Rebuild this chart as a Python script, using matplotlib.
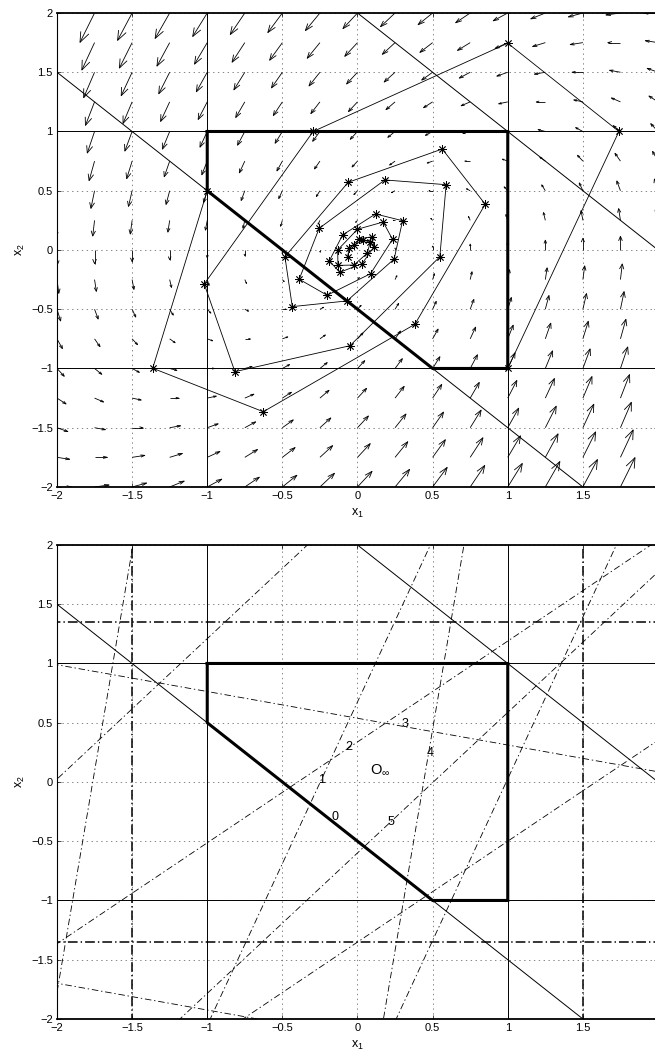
import numpy as np
import matplotlib
matplotlib.use('Agg')
import matplotlib.pyplot as plt
from matplotlib.collections import LineCollection

plt.rcParams['font.family'] = ['Liberation Sans', 'DejaVu Sans']
plt.rcParams['mathtext.fontset'] = 'custom'
plt.rcParams['mathtext.rm'] = 'Liberation Sans'
plt.rcParams['mathtext.it'] = 'Liberation Sans'
plt.rcParams['mathtext.default'] = 'regular'
plt.rcParams['lines.scale_dashes'] = False

A_sys = np.array([[1.0, -0.733], [1.0, 0.0]])
grid_vals = np.arange(-2, 2.001, 0.25)
arrow_scale = 0.066

ticks = [-2, -1.5, -1, -0.5, 0, 0.5, 1, 1.5, 2]
xtick_labels = ['\u22122', '\u22121.5', '\u22121', '\u22120.5', '0', '0.5', '1', '1.5', '']
ytick_labels = ['\u22122', '\u22121.5', '\u22121', '\u22120.5', '0', '0.5', '1', '1.5', '2']

# constraint set and O_inf
box_lim = [-1, 1]
sum_bounds = [-0.5, 2]
oinf_x = [-1, 1, 1, 0.5, -1, -1]
oinf_y = [1, 1, -1, -1, 0.5, 1]

# trajectories started from the vertices (1,-1) and (-1,0.5)
traj1_x = [1.0, 1.74, 1.0, -0.295, -1.02, -0.816, -0.05, 0.548, 0.59, 0.182, -0.255, -0.388,
           -0.202, 0.087, 0.233, 0.171, 0.0, -0.132, -0.13, -0.024, 0.064, 0.085, 0.038, -0.024]
traj1_y = [-1.0, 1.0, 1.745, 1.0, -0.287, -1.027, -0.808, -0.057, 0.551, 0.591, 0.183, -0.247,
           -0.382, -0.2, 0.09, 0.236, 0.175, 0.0, -0.13, -0.127, -0.028, 0.064, 0.085, 0.038]
traj2_x = [-1.0, -1.363, -0.627, 0.382, 0.85, 0.564, -0.062, -0.483, -0.434, -0.07, 0.244, 0.30,
           0.12, -0.099, -0.188, -0.117, 0.031, 0.111, 0.094, 0.013, -0.056, -0.066]
traj2_y = [0.5, -0.998, -1.365, -0.627, 0.386, 0.852, 0.571, -0.057, -0.478, -0.43, -0.076, 0.247,
           0.304, 0.127, -0.093, -0.188, -0.115, 0.028, 0.111, 0.094, 0.013, -0.056]

# rows [1 1]A^k, k = 1..5 (dash-dot lines in the lower plot)
row_a1 = [2.02, 1.26, -0.21, -1.135, -0.99]
row_a2 = [-0.74, -1.48, -0.93, 0.152, 0.835]
heavy_x1 = [-1.5, 1.5]
heavy_x2 = [-1.35, 1.35]

label_text = ['0', '1', '2', '3', '4', '5']
label_x = [-0.15, -0.239, -0.055, 0.315, 0.482, 0.222]
label_y = [-0.293, 0.02, 0.293, 0.487, 0.242, -0.335]


def setup_axes(ax):
    ax.set_xlim(-2, 2)
    ax.set_ylim(-2, 2)
    ax.set_xticks(ticks)
    ax.set_xticklabels(xtick_labels)
    ax.set_yticks(ticks)
    ax.set_yticklabels(ytick_labels)
    ax.tick_params(direction='in', length=3, width=0.5, top=True, right=True,
                   labelsize=8, pad=3)
    ax.grid(True, color='0.45', linestyle=(0, (1, 2.5)), linewidth=0.6)
    ax.set_axisbelow(True)
    for side, sp in ax.spines.items():
        sp.set_linewidth(1.3 if side in ('top', 'bottom') else 0.8)
    ax.set_xlabel('$x_1$', fontsize=9, labelpad=4)
    ax.set_ylabel('$x_2$', fontsize=9, labelpad=3)


def draw_line(ax, a1, a2, b, **kw):
    if abs(a2) > abs(a1):
        xs = np.array([-3.0, 3.0])
        ys = (b - a1 * xs) / a2
    else:
        ys = np.array([-3.0, 3.0])
        xs = (b - a2 * ys) / a1
    ax.plot(xs, ys, **kw)


def draw_constraints(ax):
    for v in box_lim:
        draw_line(ax, 1, 0, v, color='k', lw=0.7)
        draw_line(ax, 0, 1, v, color='k', lw=0.7)
    for b in sum_bounds:
        draw_line(ax, 1, 1, b, color='k', lw=0.7)
    ax.plot(oinf_x, oinf_y, 'k-', lw=2.2, solid_joinstyle='miter')


def draw_quiver(ax):
    X, Y = np.meshgrid(grid_vals, grid_vals)
    X = X.ravel()
    Y = Y.ravel()
    M = A_sys - np.eye(2)
    u = (M[0, 0] * X + M[0, 1] * Y) * arrow_scale
    v = (M[1, 0] * X + M[1, 1] * Y) * arrow_scale
    alpha = 0.33
    beta = 0.33
    segs = []
    for x, y, du, dv in zip(X, Y, u, v):
        segs.append([(x, y), (x + du, y + dv)])
        segs.append([(x + du - alpha * (du + beta * dv), y + dv - alpha * (dv - beta * du)),
                     (x + du, y + dv),
                     (x + du - alpha * (du - beta * dv), y + dv - alpha * (dv + beta * du))])
    ax.add_collection(LineCollection(segs, colors='k', linewidths=0.6))


fig = plt.figure(figsize=(6.55, 10.57), dpi=100)
ax1 = fig.add_axes([0.0870, 0.5393, 0.9176, 0.4484])
ax2 = fig.add_axes([0.0870, 0.0360, 0.9176, 0.4484])

# top: phase portrait
setup_axes(ax1)
draw_quiver(ax1)
draw_constraints(ax1)
star = (8, 2, 0)
ax1.plot(traj1_x, traj1_y, 'k-', lw=0.6, marker=star, ms=6, mew=0.6)
ax1.plot(traj2_x, traj2_y, 'k-', lw=0.6, marker=star, ms=6, mew=0.6)

# bottom: constraint rows
setup_axes(ax2)
draw_constraints(ax2)
for a1, a2 in zip(row_a1, row_a2):
    for b in sum_bounds:
        draw_line(ax2, a1, a2, b, color='k', lw=0.6, linestyle=(0, (4.7, 2, 1, 2)))
for v in heavy_x1:
    draw_line(ax2, 1, 0, v, color='k', lw=1.1, linestyle=(0, (7, 2.2, 1, 2.2)))
for v in heavy_x2:
    draw_line(ax2, 0, 1, v, color='k', lw=1.1, linestyle=(0, (7, 2.2, 1, 2.2)))
for t, x, y in zip(label_text, label_x, label_y):
    ax2.text(x, y, t, fontsize=9, ha='center', va='center')
ax2.text(0.083, 0.067, r'O$_\infty$', fontsize=10.5, ha='left', va='baseline')

fig.savefig('out.png', dpi=100)
